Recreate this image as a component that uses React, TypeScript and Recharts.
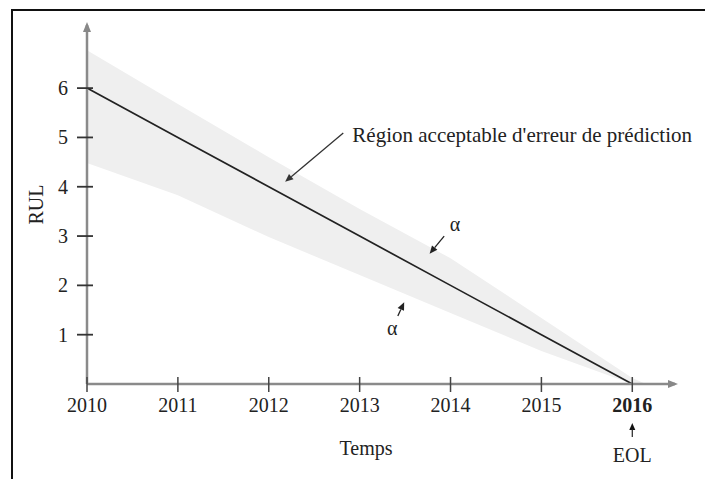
import React from 'react';
import {
  ComposedChart,
  Area,
  Line,
  XAxis,
  YAxis,
  ReferenceLine,
  ReferenceDot,
} from 'recharts';

// ---- data ----
const years = [2010, 2011, 2012, 2013, 2014, 2015, 2016];
const rulValues = [6, 5, 4, 3, 2, 1, 0];
const bandYears = [2010, 2011, 2012, 2013, 2014, 2015, 2016, 2016.15];
const bandUpper = [6.77, 5.68, 4.6, 3.55, 2.55, 1.34, 0.12, 0];
const bandLower = [4.48, 3.83, 2.98, 2.21, 1.44, 0.67, 0, 0];
const yTicks = [1, 2, 3, 4, 5, 6];
const xDomain = [2010, 2016.47];
const yDomain = [0, 7.28];

const regionLabel = "Région acceptable d'erreur de prédiction";
const regionLabelPos = { x: 2012.92, y: 4.91 };
const regionArrow = [{ x: 2012.82, y: 5.09 }, { x: 2012.18, y: 4.1 }];
const alphaUpperPos = { x: 2014.05, y: 3.1 };
const alphaUpperArrow = [{ x: 2013.93, y: 3.0 }, { x: 2013.77, y: 2.64 }];
const alphaLowerPos = { x: 2013.36, y: 0.99 };
const alphaLowerArrow = [{ x: 2013.42, y: 1.38 }, { x: 2013.49, y: 1.66 }];

const data = bandYears.map((yr, i) => {
  const idx = years.indexOf(yr);
  return {
    year: yr,
    band: [bandLower[i], bandUpper[i]],
    rul: idx >= 0 ? rulValues[idx] : null,
  };
});

const FONT = '"Liberation Serif", "Times New Roman", serif';

const XTick = (props: any) => {
  const { x, y, payload } = props;
  const v = payload.value;
  const isEnd = v === 2016;
  return (
    <g>
      <line x1={x} x2={x} y1={y - 7} y2={y + 8} stroke="#444" strokeWidth={1.5} />
      <text
        x={x}
        y={y + 28}
        textAnchor="middle"
        fontSize={20}
        fontFamily={FONT}
        fontWeight={isEnd ? 'bold' : 'normal'}
        fill="#222"
      >
        {v}
      </text>
      {isEnd && (
        <g>
          <polygon points={`${x - 3},${y + 46} ${x + 3},${y + 46} ${x},${y + 39}`} fill="#111" />
          <line x1={x} x2={x} y1={y + 45} y2={y + 53} stroke="#222" strokeWidth={1.2} />
          <text x={x} y={y + 78} textAnchor="middle" fontSize={20} fontFamily={FONT} fill="#222">
            EOL
          </text>
        </g>
      )}
    </g>
  );
};

const YTick = (props: any) => {
  const { x, y, payload } = props;
  return (
    <g>
      <line x1={x - 10} x2={x + 6} y1={y} y2={y} stroke="#333" strokeWidth={1.8} />
      <text x={x - 24} y={y + 7} textAnchor="middle" fontSize={20} fontFamily={FONT} fill="#222">
        {payload.value}
      </text>
    </g>
  );
};

const arrowShape = (color: string, width: number) => (p: any) => {
  const { x1, y1, x2, y2 } = p;
  const ang = Math.atan2(y2 - y1, x2 - x1);
  const L = 8;
  const W = 3.5;
  const bx = x2 - L * Math.cos(ang);
  const by = y2 - L * Math.sin(ang);
  const px = -Math.sin(ang) * W;
  const py = Math.cos(ang) * W;
  return (
    <g>
      <line x1={x1} y1={y1} x2={bx} y2={by} stroke={color} strokeWidth={width} />
      <polygon points={`${x2},${y2} ${bx + px},${by + py} ${bx - px},${by - py}`} fill={color} />
    </g>
  );
};

const textShape = (txt: string, size: number, anchor: string) => (p: any) => (
  <text x={p.cx} y={p.cy} fontSize={size} fontFamily={FONT} fill="#222" textAnchor={anchor}>
    {txt}
  </text>
);

export default function App() {
  return (
    <div style={{ position: 'absolute', left: 0, top: 0, width: 705, height: 479, overflow: 'hidden', background: '#fff' }}>
      <div
        style={{
          position: 'absolute',
          left: 11,
          top: 9,
          width: 720,
          height: 500,
          borderLeft: '2px solid #111',
          borderTop: '2px solid #111',
        }}
      />
      <div style={{ position: 'absolute', left: 0, top: 0 }}>
        <ComposedChart
          width={705}
          height={479}
          data={data}
          margin={{ top: 25, right: 30, bottom: 0, left: 27 }}
        >
          <defs>
            <marker id="axArrow" markerWidth="10" markerHeight="8" refX="7" refY="4" orient="auto-start-reverse" markerUnits="userSpaceOnUse">
              <path d="M0,0 L10,4 L0,8 Z" fill="#888" />
            </marker>
          </defs>
          <XAxis
            type="number"
            dataKey="year"
            domain={xDomain}
            ticks={years}
            allowDataOverflow
            height={95}
            tickSize={0}
            tickMargin={0}
            tick={<XTick />}
            axisLine={{ stroke: '#8a8a8a', strokeWidth: 2.5, markerEnd: 'url(#axArrow)' }}
            label={{
              content: (lp: any) => {
                const vb = lp.viewBox || {};
                return (
                  <text
                    x={vb.x + vb.width / 2 - 15}
                    y={vb.y + 71}
                    textAnchor="middle"
                    fontSize={20}
                    fontFamily={FONT}
                    fill="#222"
                  >
                    Temps
                  </text>
                );
              },
            }}
          />
          <YAxis
            type="number"
            domain={yDomain}
            ticks={yTicks}
            allowDataOverflow
            width={60}
            tickSize={0}
            tickMargin={0}
            tick={<YTick />}
            axisLine={{ stroke: '#8a8a8a', strokeWidth: 2.5, markerStart: 'url(#axArrow)' }}
            label={{
              content: (lp: any) => {
                const vb = lp.viewBox || {};
                const cx = vb.x + 9;
                const cy = vb.y + vb.height / 2;
                return (
                  <text
                    x={cx}
                    y={cy}
                    transform={`rotate(-90 ${cx} ${cy})`}
                    textAnchor="middle"
                    dominantBaseline="central"
                    fontSize={20}
                    fontFamily={FONT}
                    fill="#222"
                  >
                    RUL
                  </text>
                );
              },
            }}
          />
          <Area
            dataKey="band"
            stroke="none"
            fill="#efefef"
            fillOpacity={1}
            isAnimationActive={false}
            dot={false}
            activeDot={false}
          />
          <Line
            dataKey="rul"
            stroke="#222"
            strokeWidth={1.7}
            dot={false}
            activeDot={false}
            isAnimationActive={false}
          />
          <ReferenceLine segment={regionArrow} shape={arrowShape('#333', 1.3)} />
          <ReferenceLine segment={alphaUpperArrow} shape={arrowShape('#222', 1.3)} />
          <ReferenceLine segment={alphaLowerArrow} shape={arrowShape('#222', 1.3)} />
          <ReferenceDot x={regionLabelPos.x} y={regionLabelPos.y} r={0} shape={textShape(regionLabel, 21, 'start')} />
          <ReferenceDot x={alphaUpperPos.x} y={alphaUpperPos.y} r={0} shape={textShape('α', 20, 'middle')} />
          <ReferenceDot x={alphaLowerPos.x} y={alphaLowerPos.y} r={0} shape={textShape('α', 20, 'middle')} />
        </ComposedChart>
      </div>
    </div>
  );
}
